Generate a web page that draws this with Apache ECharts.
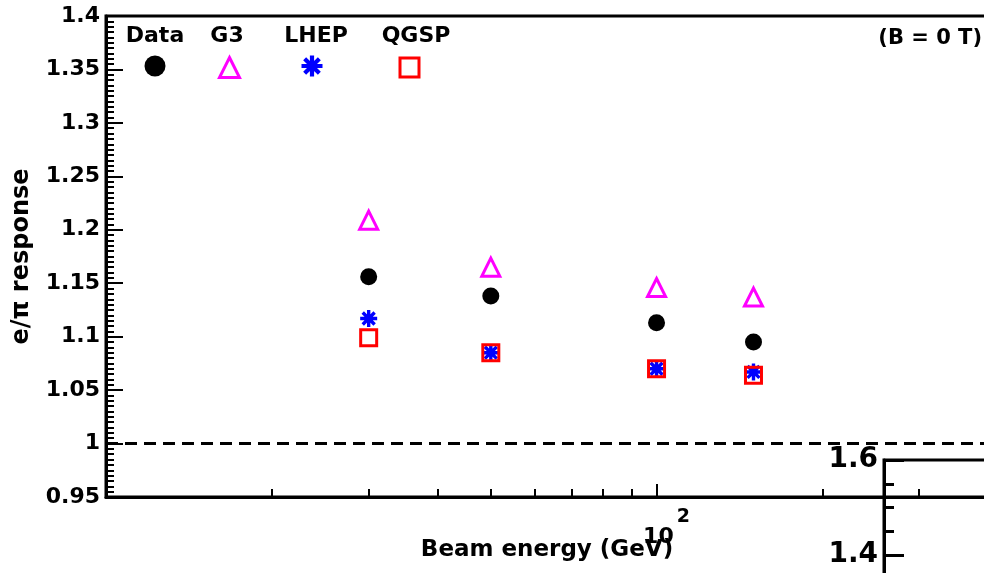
<!DOCTYPE html>
<html>
<head>
<meta charset="utf-8">
<script src="https://cdn.jsdelivr.net/npm/echarts@6/dist/echarts.min.js"></script>
<style>
html,body{margin:0;padding:0;background:#fff;}
#chart{width:984px;height:573px;}
</style>
</head>
<body>
<div id="chart"></div>
<script>
// ---- data ----
const energies = [30, 50, 100, 150];               // Beam energy (GeV)
const dataResp = [1.156, 1.138, 1.113, 1.095];     // Data
const g3Resp   = [1.209, 1.165, 1.146, 1.137];     // G3
const lhepResp = [1.117, 1.085, 1.070, 1.067];     // LHEP
const qgspResp = [1.099, 1.085, 1.070, 1.064];     // QGSP
const seriesNames = ['Data', 'G3', 'LHEP', 'QGSP'];
const xMajorTicks = [100];
const xMinorTicks = [20, 30, 40, 50, 60, 70, 80, 90, 200, 300];
const insetTicks = [1.4, 1.6];

const FONT = 'DejaVu Sans';
const STAR = 'path://M0 8L20 8L20 12L0 12Z M8 0L12 0L12 20L8 20Z M4.41 1.59L18.41 15.59L15.59 18.41L1.59 4.41Z M18.41 4.41L4.41 18.41L1.59 15.59L15.59 1.59Z';

function pairs(ys) { return energies.map((e, i) => [e, ys[i]]); }

const styles = {
  Data: { symbol: 'circle', size: 17, legendSize: 21, itemStyle: { color: '#000', opacity: 1 } },
  G3:   { symbol: 'triangle', size: 18, legendSize: 20, itemStyle: { color: 'rgba(0,0,0,0)', borderColor: '#ff00ff', borderWidth: 3, opacity: 1 } },
  LHEP: { symbol: STAR, size: 17, legendSize: 21, itemStyle: { color: '#0000ff', opacity: 1 } },
  QGSP: { symbol: 'rect', size: 16, legendSize: 19, itemStyle: { color: 'rgba(0,0,0,0)', borderColor: '#ff0000', borderWidth: 3, opacity: 1 } }
};
const values = { Data: dataResp, G3: g3Resp, LHEP: lhepResp, QGSP: qgspResp };
const legendX = { Data: 155, G3: 228, LHEP: 312, QGSP: 408 };
const legendTextX = { Data: 155, G3: 227, LHEP: 316, QGSP: 416 };

const series = seriesNames.map((n, i) => {
  const s = {
    name: n, type: 'scatter', xAxisIndex: 0, yAxisIndex: 0,
    symbol: styles[n].symbol, symbolSize: styles[n].size,
    itemStyle: styles[n].itemStyle,
    data: pairs(values[n]), z: 3 + i,
    emphasis: { disabled: true }
  };
  if (n === 'Data') {
    s.markLine = {
      silent: true, symbol: 'none', label: { show: false },
      lineStyle: { color: '#000', type: [12, 7], width: 3, opacity: 1 },
      data: [{ yAxis: 1 }]
    };
  }
  return s;
});

const legends = seriesNames.map(n => ({
  data: [n], icon: styles[n].symbol,
  left: legendX[n] - styles[n].legendSize / 2, top: 66 - styles[n].legendSize / 2,
  itemWidth: styles[n].legendSize, itemHeight: styles[n].legendSize,
  padding: 0, itemGap: 0, selectedMode: false,
  formatter: () => '', textStyle: { fontSize: 1, padding: 0 },
  itemStyle: styles[n].itemStyle
}));

const graphics = seriesNames.map(n => ({
  type: 'text', x: legendTextX[n], y: 36,
  style: { text: n, font: 'bold 22px "' + FONT + '"', fill: '#000', align: 'center', verticalAlign: 'middle' }
}));
graphics.push({
  type: 'text', x: 982, y: 39,
  style: { text: '(B = 0 T)', font: 'bold 21px "' + FONT + '"', fill: '#000', align: 'right', verticalAlign: 'middle' }
});

const chart = echarts.init(document.getElementById('chart'), null, { renderer: 'canvas' });
chart.setOption({
  animation: false,
  backgroundColor: '#fff',
  textStyle: { fontFamily: FONT },
  grid: [
    { left: 106, top: 16, width: 882, height: 481, show: true, borderColor: '#000', borderWidth: 3, backgroundColor: 'transparent', outerBoundsMode: 'none', containLabel: false },
    { left: 884, top: 460, width: 300, height: 380, show: true, borderColor: '#000', borderWidth: 3, backgroundColor: 'transparent', outerBoundsMode: 'none', containLabel: false }
  ],
  legend: legends,
  graphic: graphics,
  xAxis: [
    {
      type: 'log', logBase: 10, min: 10, max: 400, gridIndex: 0, position: 'bottom',
      axisLine: { show: true, lineStyle: { color: '#000', width: 3 } },
      axisTick: { show: true, inside: true, length: 13, lineStyle: { color: '#000', width: 2 }, customValues: xMajorTicks },
      minorTick: { show: false },
      splitLine: { show: false },
      axisLabel: {
        show: true, customValues: xMajorTicks, margin: 11,
        formatter: v => '{a|10}{b|2}',
        rich: {
          a: { fontFamily: FONT, fontWeight: 'bold', fontSize: 22, color: '#000', padding: [18, 0, 0, 20] },
          b: { fontFamily: FONT, fontWeight: 'bold', fontSize: 19, color: '#000', verticalAlign: 'top', padding: [0, 0, 0, 3] }
        }
      },
      name: 'Beam energy (GeV)', nameLocation: 'middle', nameGap: 42, nameMoveOverlap: false,
      nameTextStyle: { fontFamily: FONT, fontWeight: 'bold', fontSize: 23, color: '#000' }
    },
    {
      type: 'log', logBase: 10, min: 10, max: 400, gridIndex: 0, position: 'bottom',
      axisLine: { show: false },
      axisTick: { show: true, inside: true, length: 8, lineStyle: { color: '#000', width: 2 }, customValues: xMinorTicks },
      axisLabel: { show: false },
      splitLine: { show: false }
    },
    { type: 'value', gridIndex: 1, show: false, min: 0, max: 1 }
  ],
  yAxis: [
    {
      type: 'value', gridIndex: 0, min: 0.95, max: 1.4, interval: 0.05,
      axisLine: { show: true, lineStyle: { color: '#000', width: 3 } },
      axisTick: { show: true, inside: true, length: 17, lineStyle: { color: '#000', width: 2 } },
      minorTick: { show: true, splitNumber: 10, length: 8, lineStyle: { color: '#000', width: 2 } },
      splitLine: { show: false },
      axisLabel: {
        show: true, margin: 6,
        formatter: v => String(+v.toFixed(2)),
        fontFamily: FONT, fontWeight: 'bold', fontSize: 22, color: '#000'
      },
      name: 'e/\u03c0 response', nameLocation: 'middle', nameGap: 72, nameRotate: 90, nameMoveOverlap: false,
      nameTextStyle: { fontFamily: FONT, fontWeight: 'bold', fontSize: 24, color: '#000' }
    },
    {
      type: 'value', gridIndex: 1, min: 0.8, max: 1.6, interval: 0.2,
      axisLine: { show: true, lineStyle: { color: '#000', width: 3 } },
      axisTick: { show: true, inside: true, length: 20, lineStyle: { color: '#000', width: 3 } },
      minorTick: { show: true, splitNumber: 4, length: 10, lineStyle: { color: '#000', width: 3 } },
      splitLine: { show: false },
      axisLabel: {
        show: true, margin: 6,
        formatter: v => (v > 1.3 ? String(+v.toFixed(1)) : ''),
        fontFamily: FONT, fontWeight: 'bold', fontSize: 28, color: '#000'
      }
    }
  ],
  series: series
});
</script>
</body>
</html>
